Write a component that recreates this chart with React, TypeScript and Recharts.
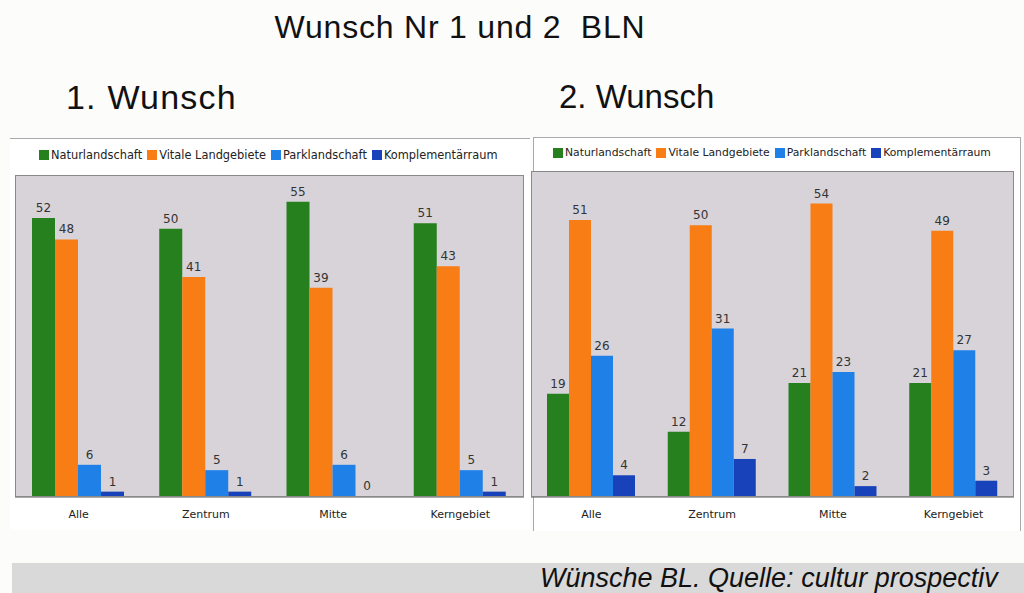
import React from 'react';
import { BarChart, Bar, XAxis, YAxis, CartesianGrid, LabelList } from 'recharts';

const categories = ['Alle', 'Zentrum', 'Mitte', 'Kerngebiet'];
const seriesNames = ['Naturlandschaft', 'Vitale Landgebiete', 'Parklandschaft', 'Komplementärraum'];
const seriesColors = ['#25801d', '#f77d14', '#1f80e8', '#1842ba'];

const w1Natur = [52, 50, 55, 51];
const w1Vital = [48, 41, 39, 43];
const w1Park = [6, 5, 6, 5];
const w1Kompl = [1, 1, 0, 1];

const w2Natur = [19, 12, 21, 21];
const w2Vital = [51, 50, 54, 49];
const w2Park = [26, 31, 23, 27];
const w2Kompl = [4, 7, 2, 3];

const yDomain = [0, 60];

const build = (a: number[], b: number[], c: number[], d: number[]) =>
  categories.map((cat, i) => ({ cat, s0: a[i], s1: b[i], s2: c[i], s3: d[i] }));

const data1 = build(w1Natur, w1Vital, w1Park, w1Kompl);
const data2 = build(w2Natur, w2Vital, w2Park, w2Kompl);

const chartFont = '"DejaVu Sans", Verdana, sans-serif';
const textFont = '"Liberation Sans", Arial, sans-serif';

function ValueLabel(props: any) {
  const { x, y, width, value } = props;
  if (x == null || y == null) return null;
  return (
    <text x={Number(x) + Number(width) / 2} y={Number(y) - 6} textAnchor="middle"
      style={{ fontFamily: chartFont, fontSize: 12, fill: '#333' }}>
      {value}
    </text>
  );
}

// zero values get a 1px sliver so their value label is still drawn
const zeroSliver = (value: any) => (Number(value) === 0 ? 1 : 0);

function LegendRow({ left, top, fontSize }: { left: number; top: number; fontSize: number }) {
  return (
    <div style={{ position: 'absolute', left, top, display: 'flex', alignItems: 'center', fontFamily: chartFont, fontSize, color: '#222', whiteSpace: 'nowrap' }}>
      {seriesNames.map((n, i) => (
        <span key={n} style={{ display: 'inline-flex', alignItems: 'center', marginRight: 5 }}>
          <span style={{ display: 'inline-block', width: 10, height: 10, background: seriesColors[i], marginRight: 2 }} />
          {n}
        </span>
      ))}
    </div>
  );
}

function Panel({ data, left, width, margin, gap }: { data: any[]; left: number; width: number; margin: any; gap: number }) {
  return (
    <div style={{ position: 'absolute', left, top: 0 }}>
      <BarChart width={width} height={545} data={data} margin={margin} barGap={0} barCategoryGap={gap}>
        <CartesianGrid fill="#d7d3d8" horizontal={false} vertical={false} />
        <XAxis dataKey="cat" height={30} tickSize={0} tickMargin={13} axisLine={{ stroke: '#555' }}
          tick={{ fontFamily: chartFont, fontSize: 11, fill: '#222' }} />
        <YAxis hide domain={yDomain} />
        {seriesNames.map((n, i) => (
          <Bar key={n} dataKey={'s' + i} name={n} fill={seriesColors[i]} isAnimationActive={false} minPointSize={zeroSliver}>
            <LabelList dataKey={'s' + i} content={<ValueLabel />} />
          </Bar>
        ))}
      </BarChart>
    </div>
  );
}

export default function App() {
  return (
    <div style={{ position: 'absolute', left: 0, top: 0, width: 1024, height: 593, background: '#fcfcfa', overflow: 'hidden' }}>
      <div style={{ position: 'absolute', left: 0, top: 9, width: 920, textAlign: 'center', fontFamily: textFont, fontSize: 32, letterSpacing: 0.8, color: '#111', whiteSpace: 'pre' }}>
        {'Wunsch Nr 1 und 2  BLN'}
      </div>
      <div style={{ position: 'absolute', left: 66, top: 78, fontFamily: textFont, fontSize: 34, letterSpacing: 1.2, color: '#111' }}>1. Wunsch</div>
      <div style={{ position: 'absolute', left: 559, top: 78, fontFamily: textFont, fontSize: 33, color: '#111' }}>2. Wunsch</div>

      {/* panel frames */}
      <div style={{ position: 'absolute', left: 10, top: 138, width: 520, height: 392, background: '#fff', borderTop: '1px solid #aaa', boxSizing: 'border-box' }} />
      <div style={{ position: 'absolute', left: 533, top: 137, width: 488, height: 394, background: '#fff', border: '1px solid #aaa', borderBottom: 'none', boxSizing: 'border-box' }} />

      <LegendRow left={39} top={148} fontSize={11.4} />
      <LegendRow left={553} top={146} fontSize={10.8} />

      <Panel data={data1} left={0} width={540} margin={{ top: 175, left: 15, right: 16, bottom: 18 }} gap={17} />
      <Panel data={data2} left={520} width={504} margin={{ top: 171, left: 11, right: 10, bottom: 18 }} gap={16} />

      {/* plot frames */}
      <div style={{ position: 'absolute', left: 15, top: 175, width: 509, height: 322, border: '1px solid #8a8a8a', boxSizing: 'border-box', pointerEvents: 'none' }} />
      <div style={{ position: 'absolute', left: 531, top: 171, width: 483, height: 326, border: '1px solid #8a8a8a', boxSizing: 'border-box', pointerEvents: 'none' }} />

      <div style={{ position: 'absolute', left: 12, top: 563, width: 1012, height: 30, background: '#d9d9d9', overflow: 'hidden' }}>
        <div style={{ position: 'absolute', left: 528, top: 0, lineHeight: '30px', fontFamily: textFont, fontStyle: 'italic', fontSize: 27, color: '#111', whiteSpace: 'nowrap' }}>
          Wünsche BL. Quelle: cultur prospectiv
        </div>
      </div>
    </div>
  );
}
